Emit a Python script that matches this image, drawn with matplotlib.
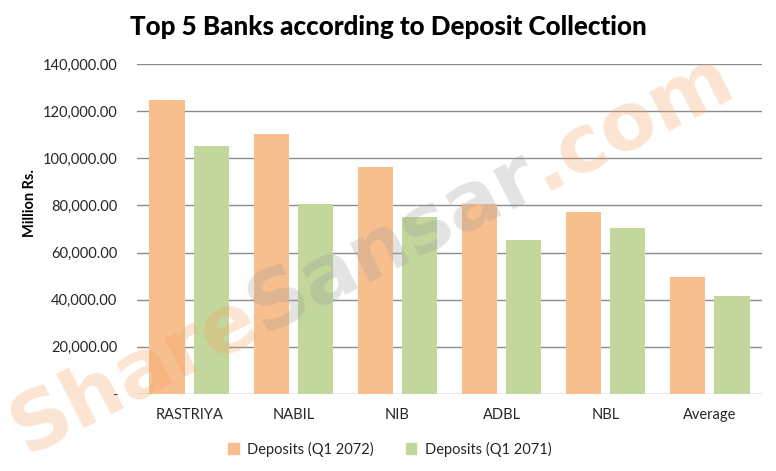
import matplotlib
matplotlib.use("Agg")
import matplotlib.pyplot as plt
import numpy as np
from matplotlib.patches import Patch

categories = ["RASTRIYA", "NABIL", "NIB", "ADBL", "NBL", "Average"]
dep_2072 = [124700, 110200, 96200, 80400, 77400, 49800]
dep_2071 = [105100, 80400, 75000, 65500, 70600, 41700]
series_names = ["Deposits (Q1 2072)", "Deposits (Q1 2071)"]
yticks = [0, 20000, 40000, 60000, 80000, 100000, 120000, 140000]

FONT = "Lato"
c_or = "#F8BF8E"
c_gr = "#C3D69C"
grid_c = "#8C8C8C"

fig = plt.figure(figsize=(7.76, 4.71), dpi=100)
ax = fig.add_axes([137/776, 1-394/471, (762-137)/776, (394-64)/471])

x = np.arange(len(categories))
w = 0.337
off = 0.212
ax.bar(x - off, dep_2072, width=w, color=c_or, zorder=2, label=series_names[0])
ax.bar(x + off, dep_2071, width=w, color=c_gr, zorder=2, label=series_names[1])

ax.set_xlim(-0.5, len(categories) - 0.5)
ax.set_ylim(0, 140000)
ax.set_yticks(yticks)
ax.set_yticklabels(["-" if v == 0 else f"{v:,.2f}" for v in yticks])
ax.set_xticks(x)
ax.set_xticklabels(categories)
for s in ax.spines.values():
    s.set_visible(False)
ax.grid(axis="y", color=grid_c, linewidth=1.0, zorder=0)
ax.tick_params(axis="both", length=0, labelsize=10.5, colors="#262626")
ax.tick_params(axis="y", pad=14)
ax.tick_params(axis="x", pad=10)
for lab in ax.get_xticklabels() + ax.get_yticklabels():
    lab.set_family(FONT)

fig.text(30/776, 1-203/471, "Million Rs.", rotation=90, ha="center", va="center",
         fontsize=10.5, fontweight="bold", family=FONT)
fig.text(388/776, 1-27/471, "Top 5 Banks according to Deposit Collection",
         ha="center", va="center", fontsize=18.7, fontweight="black", family=FONT)

handles = [Patch(color=c_or, label=series_names[0]), Patch(color=c_gr, label=series_names[1])]
fig.legend(handles=handles, loc="center", bbox_to_anchor=(390/776, 1-449/471), ncol=2,
           frameon=False, prop={"family": FONT, "size": 10.5}, handlelength=0.7,
           handleheight=0.7, columnspacing=2.2, handletextpad=0.6, labelcolor="#262626")

# watermark
fig.canvas.draw()
renderer = fig.canvas.get_renderer()
pieces = [("Share", "#F7A060"), ("Sansar", "#9A9A9A"), (".com", "#F7A060")]
WMFONT = ["Liberation Sans Narrow", "DejaVu Sans"]
angle = 27.0
start = np.array([26.0, 16.0])  # pixels from bottom-left
target_len = 800.0
ref = 50
tot = 0
for txt, _ in pieces:
    t = fig.text(0, 0, txt, fontsize=ref, fontweight="bold", family=WMFONT)
    tot += t.get_window_extent(renderer).width
    t.remove()
fs = ref * target_len / tot
cur = start.copy()
ca, sa = np.cos(np.radians(angle)), np.sin(np.radians(angle))
for txt, col in pieces:
    t = fig.text(0, 0, txt, fontsize=fs, fontweight="bold", family=WMFONT)
    wdt = t.get_window_extent(renderer).width
    t.remove()
    fig.text(cur[0]/776, cur[1]/471, txt, fontsize=fs, fontweight="bold", family=WMFONT,
             color=col, alpha=0.28, rotation=angle, rotation_mode="anchor",
             ha="left", va="baseline", zorder=10)
    cur = cur + wdt * np.array([ca, sa])

fig.savefig("out.png", dpi=100)
